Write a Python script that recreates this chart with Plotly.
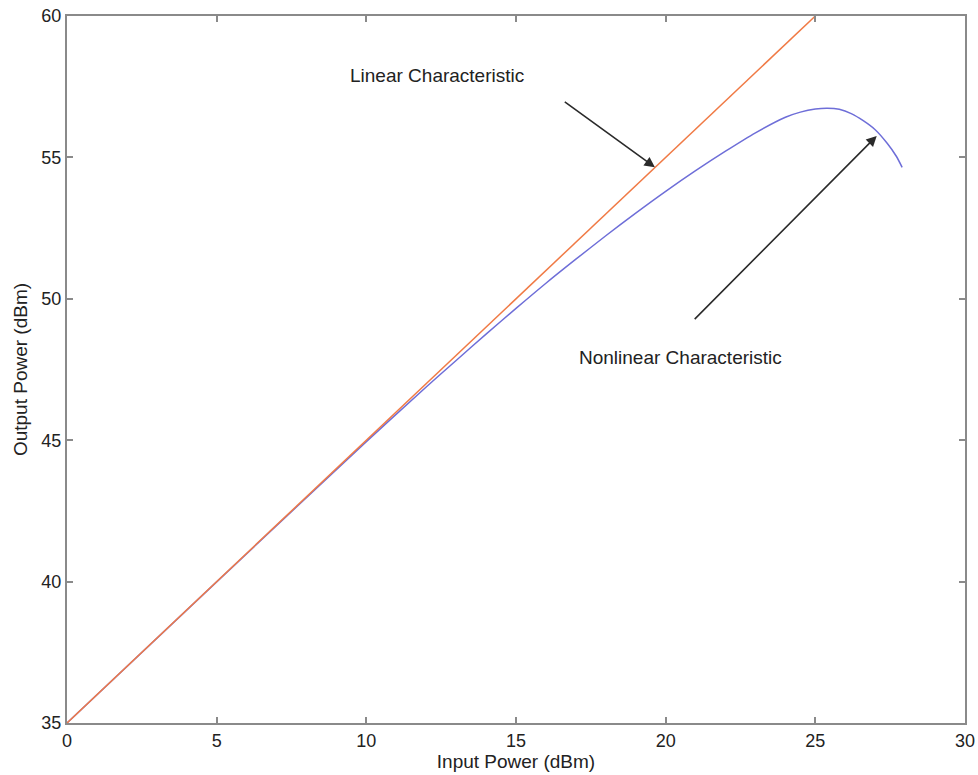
import plotly.graph_objects as go

# Data
lin_x = [0, 25]
lin_y = [35, 60]

nl_x = [0, 5, 10, 12, 13, 14, 15, 16, 17, 18, 19, 20, 21, 22, 23, 24, 24.5, 25,
        25.4, 25.8, 26.2, 26.6, 27, 27.4, 27.7, 27.9]
nl_y = [35, 39.99, 44.95, 46.88, 47.82, 48.75, 49.66, 50.55, 51.4, 52.23, 53.03,
        53.8, 54.53, 55.22, 55.87, 56.42, 56.6, 56.71, 56.74, 56.7, 56.55, 56.3,
        55.98, 55.5, 55.05, 54.65]

x_ticks = [0, 5, 10, 15, 20, 25, 30]
y_ticks = [35, 40, 45, 50, 55, 60]

FONT = "Liberation Sans, Arial, Helvetica, sans-serif"

fig = go.Figure()
fig.add_trace(go.Scatter(x=nl_x, y=nl_y, mode="lines", line=dict(color="#6e6ed8", width=1.5),
                         line_shape="spline", line_smoothing=0.8, name="Nonlinear"))
fig.add_trace(go.Scatter(x=lin_x, y=lin_y, mode="lines", line=dict(color="#f07a45", width=1.5),
                         name="Linear"))

axis_common = dict(showgrid=False, zeroline=False, showline=True, linecolor="#8a8a8a",
                   linewidth=2, mirror="ticks", ticks="inside", ticklen=6, tickwidth=1.5,
                   tickcolor="#8a8a8a", automargin=False,
                   tickfont=dict(family=FONT, size=18, color="#222"))

fig.update_xaxes(range=[0, 30], tickvals=x_ticks, ticktext=[str(v) for v in x_ticks],
                 title=dict(text="Input Power (dBm)", font=dict(family=FONT, size=19, color="#222"),
                            standoff=2),
                 **axis_common)
fig.update_yaxes(range=[35, 60], tickvals=y_ticks, ticktext=[str(v) for v in y_ticks],
                 title=dict(text="Output Power (dBm)", font=dict(family=FONT, size=19, color="#222"),
                            standoff=9),
                 **axis_common)

# Arrows
fig.add_annotation(x=19.64, y=54.65, ax=16.58, ay=57.0, xref="x", yref="y", axref="x", ayref="y",
                   text="", showarrow=True, arrowhead=2, arrowsize=1.3, arrowwidth=1.6,
                   arrowcolor="#2a2a2a", standoff=0)
fig.add_annotation(x=27.05, y=55.76, ax=20.92, ay=49.23, xref="x", yref="y", axref="x", ayref="y",
                   text="", showarrow=True, arrowhead=2, arrowsize=1.3, arrowwidth=1.6,
                   arrowcolor="#2a2a2a", standoff=0)
# Labels
fig.add_annotation(x=12.36, y=57.91, xref="x", yref="y", text="Linear Characteristic",
                   showarrow=False, font=dict(family=FONT, size=19, color="#222"))
fig.add_annotation(x=20.48, y=47.94, xref="x", yref="y", text="Nonlinear Characteristic",
                   showarrow=False, font=dict(family=FONT, size=19, color="#222"))

fig.update_layout(width=978, height=775, margin=dict(l=67, r=13, t=16, b=52),
                  paper_bgcolor="white", plot_bgcolor="white", showlegend=False)

fig.write_html("out.html")
